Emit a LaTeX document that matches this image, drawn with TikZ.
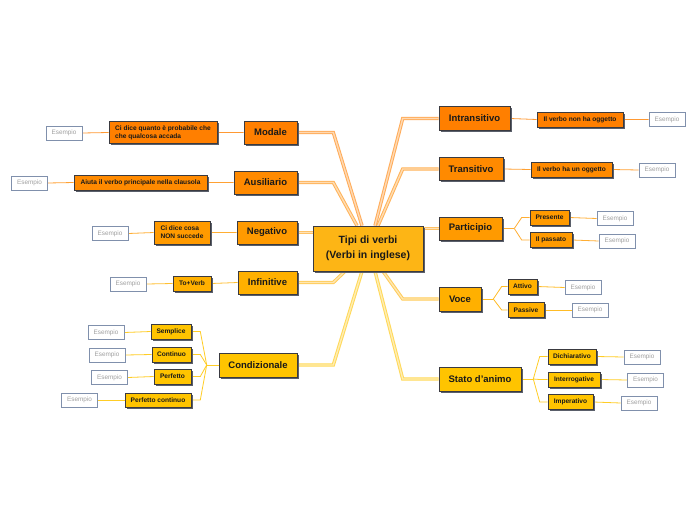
\documentclass[tikz,border=0pt]{standalone}
\usepackage{fontspec}
\setmainfont{Liberation Sans}
\usetikzlibrary{shadows,backgrounds,calc}
\definecolor{cA}{HTML}{FF7F00}
\definecolor{cB}{HTML}{FF8A00}
\definecolor{cC}{HTML}{FF9A00}
\definecolor{cD}{HTML}{FFB000}
\definecolor{cE}{HTML}{FFC400}
\definecolor{cCentral}{HTML}{FDB515}
\definecolor{esBorder}{HTML}{8090AC}
\definecolor{esText}{HTML}{A0A0A0}
\definecolor{frameC}{HTML}{3A3A40}
\definecolor{shadowC}{HTML}{5A5F6A}
\tikzset{
  box/.style={draw=frameC, line width=0.6pt, inner sep=0pt, text=black!90,
    drop shadow={shadow xshift=1.6pt, shadow yshift=-1.6pt, fill=shadowC, opacity=1}},
  mainbox/.style={box, font=\fontsize{9.5}{11}\selectfont\bfseries, minimum height=23pt},
  subbox/.style={box, font=\fontsize{6.6}{7.8}\selectfont\bfseries, minimum height=15pt},
  esempio/.style={draw=esBorder, line width=0.7pt, fill=white, text=esText,
    font=\fontsize{6.4}{7}\selectfont, minimum width=36pt, minimum height=14pt, inner sep=0pt},
  trunk/.style={line width=1pt, double distance=1.4pt},
  twig/.style={line width=0.8pt},
}
\begin{document}
\begin{tikzpicture}[x=1pt,y=-1pt]
\useasboundingbox (0,0) rectangle (697,520);
% central
\node[mainbox, fill=cCentral, minimum width=110pt, minimum height=45pt, align=center,
  font=\fontsize{10.5}{14.5}\selectfont\bfseries] (c) at (368,248.5) {Tipi di verbi\\(Verbi in inglese)};
% left main
\node[mainbox, fill=cA, minimum width=53pt] (modale) at (270.5,132.5) {Modale};
\node[mainbox, fill=cB, minimum width=63pt] (ausiliario) at (265.5,182.5) {Ausiliario};
\node[mainbox, fill=cC, minimum width=60pt] (negativo) at (267,232.5) {Negativo};
\node[mainbox, fill=cD, minimum width=59pt] (infinitive) at (267.5,282.5) {Infinitive};
\node[mainbox, fill=cE, minimum width=78pt, minimum height=24pt] (condizionale) at (258,365) {Condizionale};
% right main
\node[mainbox, fill=cA, minimum width=71pt, minimum height=24pt] (intransitivo) at (474.5,118.5) {Intransitivo};
\node[mainbox, fill=cB, minimum width=64pt] (transitivo) at (471,169) {Transitivo};
\node[mainbox, fill=cC, minimum width=63pt] (participio) at (470.5,228.5) {Participio};
\node[mainbox, fill=cD, minimum width=42pt, minimum height=24pt] (voce) at (460,299) {Voce};
\node[mainbox, fill=cE, minimum width=82pt, minimum height=24pt] (stato) at (480,379) {Stato d'animo};
% left subs
\node[subbox, fill=cA, minimum width=108pt, minimum height=22pt, align=left] (mc) at (163,132.5) {Ci dice quanto è probabile che\\che qualcosa accada};
\node[esempio] (me) at (64,133) {Esempio};
\node[subbox, fill=cB, minimum width=133pt] (ac) at (140.5,182.5) {Aiuta il verbo principale nella clausola};
\node[esempio] (ae) at (29.5,183) {Esempio};
\node[subbox, fill=cC, minimum width=56pt, minimum height=23pt, align=left] (nc) at (182,232.5) {Ci dice cosa\\NON succede};
\node[esempio] (ne) at (110,233.5) {Esempio};
\node[subbox, fill=cD, minimum width=38pt] (ic) at (192,283.5) {To+Verb};
\node[esempio] (ie) at (128,284) {Esempio};
\node[subbox, fill=cE, minimum width=40pt] (sem) at (171,331.5) {Semplice};
\node[esempio] (seme) at (106,332.5) {Esempio};
\node[subbox, fill=cE, minimum width=39pt] (con) at (171.5,354.5) {Continuo};
\node[esempio] (cone) at (107,355) {Esempio};
\node[subbox, fill=cE, minimum width=37pt] (per) at (172.5,376.5) {Perfetto};
\node[esempio] (pere) at (109.5,377.5) {Esempio};
\node[subbox, fill=cE, minimum width=66pt, minimum height=14pt] (pco) at (158,400) {Perfetto continuo};
\node[esempio] (pcoe) at (79.5,400) {Esempio};
% right subs
\node[subbox, fill=cA, minimum width=86pt] (inc) at (580,119.5) {Il verbo non ha oggetto};
\node[esempio] (ine) at (667,119.5) {Esempio};
\node[subbox, fill=cB, minimum width=81pt] (trc) at (571.5,169.5) {Il verbo ha un oggetto};
\node[esempio] (tre) at (657,170) {Esempio};
\node[subbox, fill=cC, minimum width=39pt] (pres) at (549.5,217.5) {Presente};
\node[esempio] (prese) at (615,218.5) {Esempio};
\node[subbox, fill=cC, minimum width=42pt] (pass) at (551,240) {Il passato};
\node[esempio] (passe) at (617,241) {Esempio};
\node[subbox, fill=cD, minimum width=29pt] (att) at (522.5,286.5) {Attivo};
\node[esempio] (atte) at (583,287.5) {Esempio};
\node[subbox, fill=cD, minimum width=36pt] (pas) at (526,310) {Passive};
\node[esempio] (pase) at (590,310) {Esempio};
\node[subbox, fill=cE, minimum width=48pt] (dic) at (572,356.5) {Dichiarativo};
\node[esempio] (dice) at (642,357) {Esempio};
\node[subbox, fill=cE, minimum width=52pt] (int) at (574,379.5) {Interrogative};
\node[esempio] (inte) at (645.5,380) {Esempio};
\node[subbox, fill=cE, minimum width=45pt] (imp) at (570.5,402) {Imperativo};
\node[esempio] (impe) at (639,403) {Esempio};
\begin{scope}[on background layer]
\fill[white] (0,0) rectangle (697,520);
% trunks
\draw[trunk, draw=cA!65!white, double=cA!30!white] (modale.east) -- ++(36,0) -- ($(c.north)+(-6,0)$);
\draw[trunk, draw=cB!65!white, double=cB!30!white] (ausiliario.east) -- ++(36,0) -- ($(c.north)+(-11,0)$);
\draw[trunk, draw=cC!60!white, double=cC!28!white] (negativo.east) -- (negativo.east -| c.west);
\draw[trunk, draw=cD!65!white, double=cD!30!white] (infinitive.east) -- ++(36,0) -- ($(c.south)+(-23,0)$);
\draw[trunk, draw=cE!65!white, double=cE!30!white] (condizionale.east) -- ++(36,0) -- ($(c.south)+(-6,0)$);
\draw[trunk, draw=cA!65!white, double=cA!30!white] (intransitivo.west) -- ++(-36,0) -- ($(c.north)+(7,0)$);
\draw[trunk, draw=cB!65!white, double=cB!30!white] (transitivo.west) -- ++(-36,0) -- ($(c.north)+(10,0)$);
\draw[trunk, draw=cC!60!white, double=cC!28!white] (participio.west) -- (participio.west -| c.east);
\draw[trunk, draw=cD!65!white, double=cD!30!white] (voce.west) -- ++(-36,0) -- ($(c.south)+(15,0)$);
\draw[trunk, draw=cE!65!white, double=cE!30!white] (stato.west) -- ++(-36,0) -- ($(c.south)+(7,0)$);
% left twigs
\draw[twig, draw=cA!80!white] (modale.west) -- (mc.east) (mc.west) -- (me.east);
\draw[twig, draw=cB!80!white] (ausiliario.west) -- (ac.east) (ac.west) -- (ae.east);
\draw[twig, draw=cC!80!white] (negativo.west) -- (nc.east) (nc.west) -- (ne.east);
\draw[twig, draw=cD!80!white] (infinitive.west) -- (ic.east) (ic.west) -- (ie.east);
\draw[twig, draw=cE!85!white] (condizionale.west) -- ++(-12,0) coordinate (cf);
\foreach \n in {sem,con,per,pco} {
  \draw[twig, draw=cE!85!white] (cf) -- ([xshift=9pt]\n.east) -- (\n.east);
  \draw[twig, draw=cE!85!white] (\n.west) -- (\n e.east);
}
% right twigs
\draw[twig, draw=cA!80!white] (intransitivo.east) -- (inc.west) (inc.east) -- (ine.west);
\draw[twig, draw=cB!80!white] (transitivo.east) -- (trc.west) (trc.east) -- (tre.west);
\draw[twig, draw=cC!80!white] (participio.east) -- ++(12,0) coordinate (pf);
\foreach \n in {pres,pass} {
  \draw[twig, draw=cC!80!white] (pf) -- ([xshift=-8pt]\n.west) -- (\n.west);
  \draw[twig, draw=cC!80!white] (\n.east) -- (\n e.west);
}
\draw[twig, draw=cD!85!white] (voce.east) -- ++(12,0) coordinate (vf);
\foreach \n in {att,pas} {
  \draw[twig, draw=cD!85!white] (vf) -- ([xshift=-6pt]\n.west) -- (\n.west);
  \draw[twig, draw=cD!85!white] (\n.east) -- (\n e.west);
}
\draw[twig, draw=cE!85!white] (stato.east) -- ++(12,0) coordinate (sf);
\foreach \n in {dic,int,imp} {
  \draw[twig, draw=cE!85!white] (sf) -- ([xshift=-8pt]\n.west) -- (\n.west);
  \draw[twig, draw=cE!85!white] (\n.east) -- (\n e.west);
}
\end{scope}
\end{tikzpicture}
\end{document}
